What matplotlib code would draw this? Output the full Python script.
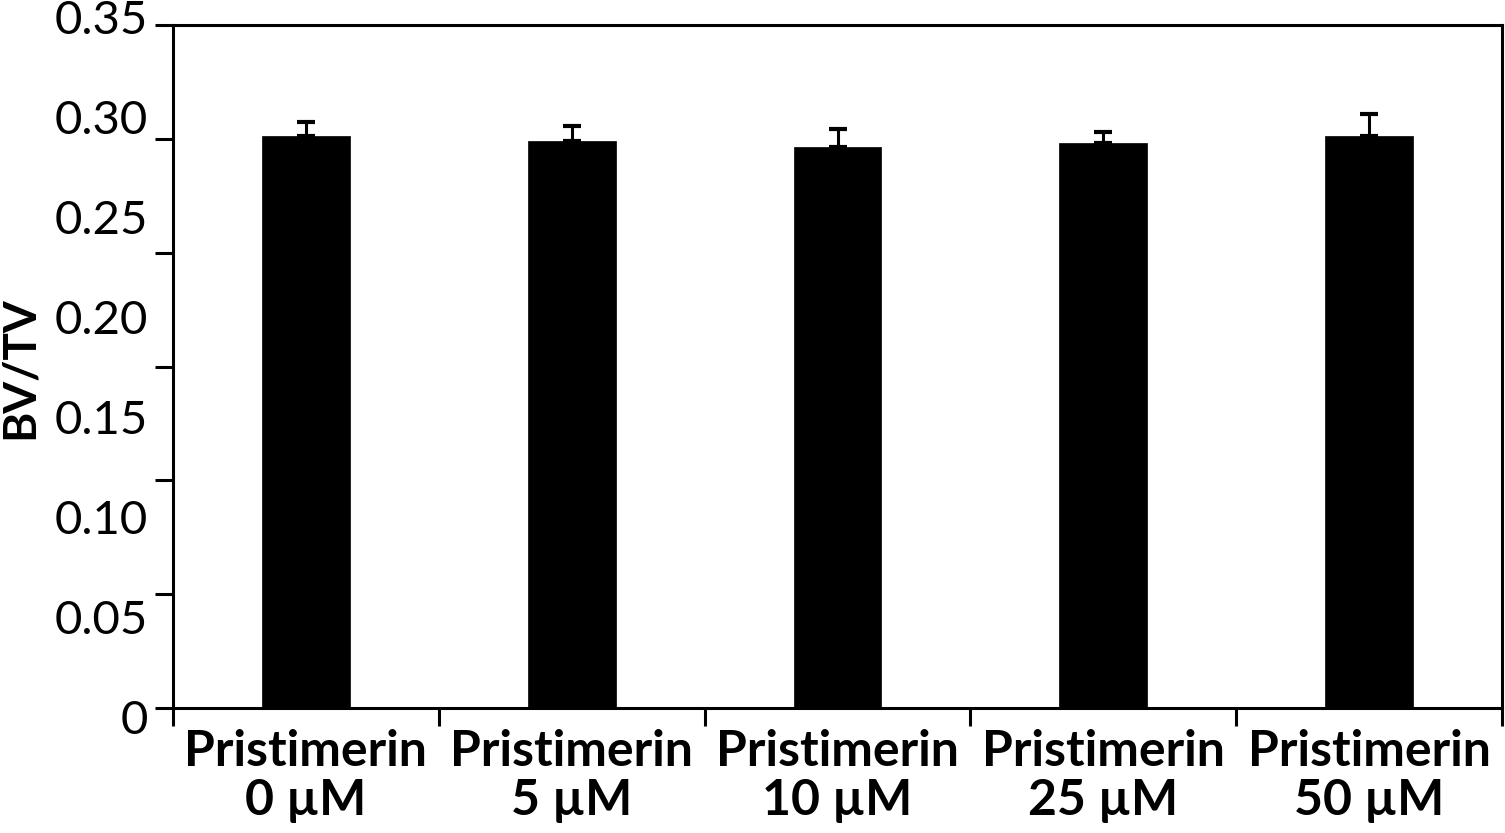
import matplotlib
matplotlib.use("Agg")
import matplotlib.pyplot as plt
import numpy as np

categories = ["Pristimerin\n0 µM", "Pristimerin\n5 µM", "Pristimerin\n10 µM",
              "Pristimerin\n25 µM", "Pristimerin\n50 µM"]
values = [0.2933, 0.2906, 0.2876, 0.2894, 0.2933]
errors = [0.0072, 0.0077, 0.0091, 0.0058, 0.0110]
ytick_labels = ["0", "0.05", "0.10", "0.15", "0.20", "0.25", "0.30", "0.35"]
ylabel = "BV/TV"

FONT = "Lato"
fig = plt.figure(figsize=(15.05, 8.33), dpi=100)
ax = fig.add_axes([173 / 1505, 1 - 708 / 833, (1502 - 173) / 1505, (708 - 25) / 833])

x = np.arange(len(categories))
ax.bar(x, values, width=0.33, color="black", edgecolor="black", linewidth=0.5, zorder=2)
ax.errorbar(x, values, yerr=[np.zeros(len(errors)), errors], fmt="none",
            ecolor="black", elinewidth=2.2, capsize=6.5, capthick=3, zorder=3)

ax.set_xlim(-0.5, len(categories) - 0.5)
ax.set_ylim(0, 0.35)

for s in ax.spines.values():
    s.set_linewidth(2.2)
    s.set_color("black")

# x ticks at category boundaries, labels at centres
ax.set_xticks(np.arange(len(categories) + 1) - 0.5)
ax.set_xticklabels([])
ax.set_xticks(x, minor=True)
ax.set_xticklabels(categories, minor=True, fontsize=36, fontweight="bold",
                   family=FONT, linespacing=1.12)
ax.tick_params(axis="x", which="major", direction="out", length=13, width=2.2)
ax.tick_params(axis="x", which="minor", length=0, pad=15)

# y ticks (7 marks), labels placed as in the reference (8 labels)
ax.set_yticks(np.linspace(0, 0.35, 7))
ax.set_yticklabels([])
ax.tick_params(axis="y", direction="out", length=13, width=2.2)
for i, lab in enumerate(ytick_labels):
    base_px = 734 - i * 100
    frac = (708 - base_px) / 683
    ax.text(-0.019, frac, lab, transform=ax.transAxes, ha="right", va="baseline",
            fontsize=34, family=FONT, fontweight="normal", color="black")

fig.text(20 / 1505, 1 - 368 / 833, ylabel, rotation=90, ha="center", va="center",
         fontsize=33, fontweight="bold", family=FONT)

fig.savefig("out.png", dpi=100)
